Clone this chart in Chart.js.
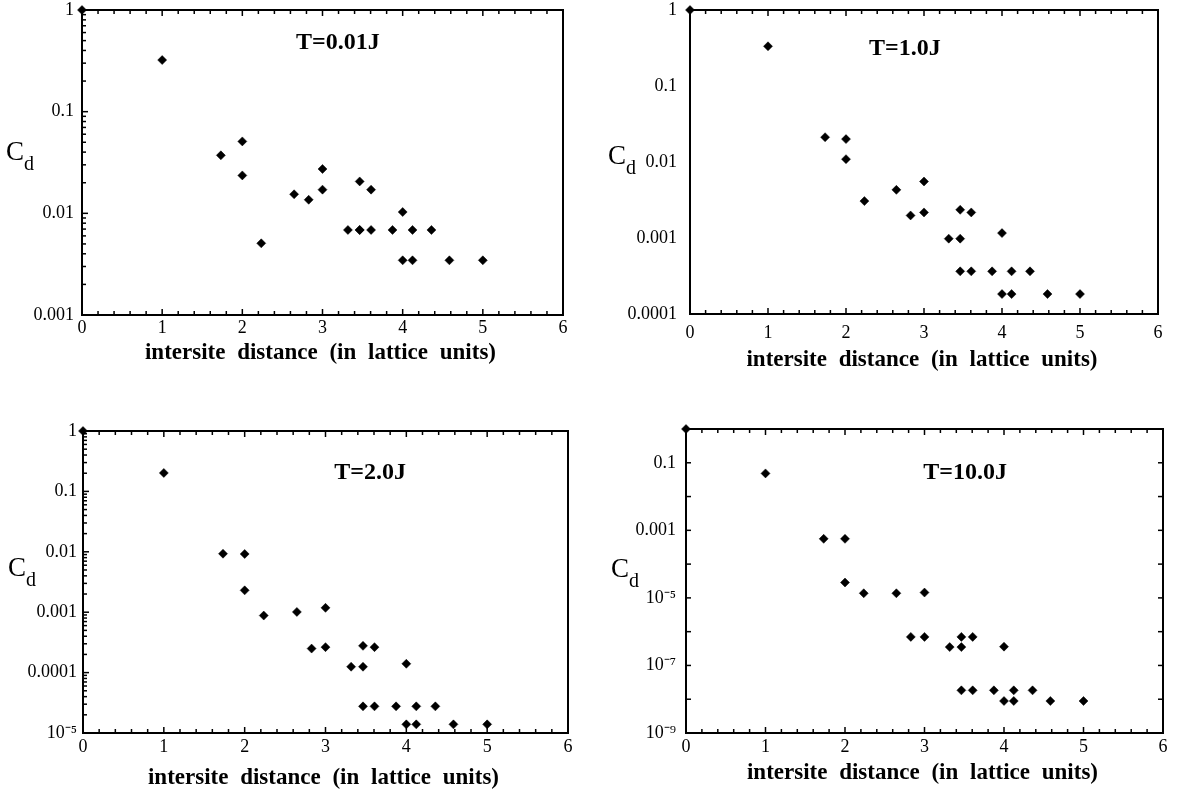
<!DOCTYPE html>
<html><head><meta charset="utf-8">
<script src="https://cdn.jsdelivr.net/npm/chart.js@4.4.1/dist/chart.umd.min.js"></script>
<style>
html,body{margin:0;padding:0;background:#fff;}
body{width:1177px;height:793px;position:relative;overflow:hidden;}
canvas{position:absolute;}
</style></head><body>
<canvas id="p1" width="585" height="395" style="left:0px;top:0px"></canvas>
<canvas id="p2" width="587" height="395" style="left:590px;top:0px"></canvas>
<canvas id="p3" width="585" height="395" style="left:0px;top:398px"></canvas>
<canvas id="p4" width="587" height="395" style="left:590px;top:398px"></canvas>
<script>
// ---- data ----
const distances = [0, 1, 1.732, 2, 2, 2.236, 2.646, 2.828, 3, 3, 3.317, 3.464, 3.464, 3.464, 3.606, 3.606, 3.873, 4, 4, 4.123, 4.123, 4.359, 4.583, 5];
const cdT001 = [1, 0.322, 0.0372, 0.051, 0.0236, 0.00507, 0.0154, 0.0136, 0.0273, 0.0171, 0.00686, 0.0206, 0.00686, 0.00686, 0.0171, 0.00686, 0.00686, 0.0103, 0.00345, 0.00686, 0.00345, 0.00686, 0.00345, 0.00345];
const cdT1 = [1, 0.333, 0.0212, 0.020, 0.0109, 0.00306, 0.0043, 0.00198, 0.00554, 0.00217, 0.00098, 0.00235, 0.00098, 0.000364, 0.00217, 0.000364, 0.000364, 0.00116, 0.000183, 0.000364, 0.000183, 0.000364, 0.000183, 0.000183];
const cdT2 = [1, 0.202, 0.0093, 0.0092, 0.0023, 0.00088, 0.00101, 0.00025, 0.00118, 0.000264, 0.000125, 0.000277, 0.000125, 2.76e-5, 0.000264, 2.76e-5, 2.76e-5, 0.00014, 1.39e-5, 2.76e-5, 1.39e-5, 2.76e-5, 1.39e-5, 1.39e-5];
const cdT10 = [1, 0.0485, 5.6e-4, 5.6e-4, 2.85e-5, 1.37e-5, 1.37e-5, 7.0e-7, 1.44e-5, 7.0e-7, 3.5e-7, 7.0e-7, 3.5e-7, 1.83e-8, 7.0e-7, 1.83e-8, 1.83e-8, 3.6e-7, 8.85e-9, 1.83e-8, 8.85e-9, 1.83e-8, 8.85e-9, 8.85e-9];

const xTickValues = [0, 1, 2, 3, 4, 5, 6];
const xTickLabels = ['0', '1', '2', '3', '4', '5', '6'];
const yTicksT001 = [1, 0.1, 0.01, 0.001];
const yLabelsT001 = ['1', '0.1', '0.01', '0.001'];
const yTicksT1 = [1, 0.1, 0.01, 0.001, 0.0001];
const yLabelsT1 = ['1', '0.1', '0.01', '0.001', '0.0001'];
const yTicksT2 = [1, 0.1, 0.01, 0.001, 0.0001, 1e-5];
const yLabelsT2 = ['1', '0.1', '0.01', '0.001', '0.0001', '10\u207B\u2075'];
const yTicksT10 = [0.1, 0.001, 1e-5, 1e-7, 1e-9];
const yLabelsT10 = ['0.1', '0.001', '10\u207B\u2075', '10\u207B\u2077', '10\u207B\u2079'];
const panelTitles = ['T=0.01J', 'T=1.0J', 'T=2.0J', 'T=10.0J'];
const xAxisTitle = 'intersite distance (in lattice units)';
const yAxisMain = 'C';
const yAxisSub = 'd';

// ---- drawing helpers ----
const SERIF = "'Liberation Serif', 'Times New Roman', serif";

const deco = {
  id: 'deco',
  beforeDatasetsDraw(chart, args, o) {
    const ctx = chart.ctx, a = chart.chartArea, xs = chart.scales.x, ys = chart.scales.y;
    ctx.save();
    ctx.strokeStyle = '#000';
    ctx.lineWidth = 1.5;
    const seg = (x1, y1, x2, y2) => { ctx.beginPath(); ctx.moveTo(x1, y1); ctx.lineTo(x2, y2); ctx.stroke(); };
    for (let i = 0; i <= 30; i++) {
      const px = xs.getPixelForValue(i / 5);
      const len = (i % 5 === 0) ? 6 : 4;
      seg(px, a.bottom, px, a.bottom - len);
      seg(px, a.top, px, a.top + len);
    }
    const e0 = Math.round(Math.log10(ys.min)), e1 = Math.round(Math.log10(ys.max));
    for (let e = e0; e <= e1; e++) {
      if (o.yMinor) {
        for (let m = 1; m <= 9; m++) {
          const v = m * Math.pow(10, e);
          if (v > ys.max * 1.0001) break;
          const py = ys.getPixelForValue(v);
          seg(a.left, py, a.left + (m === 1 ? 6 : 4), py);
        }
      } else if (o.yDecade) {
        const py = ys.getPixelForValue(Math.pow(10, e));
        seg(a.left, py, a.left + 5, py);
        seg(a.right, py, a.right - 5, py);
      }
    }
    ctx.lineWidth = 2;
    ctx.strokeRect(a.left, a.top, a.right - a.left, a.bottom - a.top);
    ctx.restore();
  },
  afterDraw(chart, args, o) {
    const ctx = chart.ctx, a = chart.chartArea;
    const w = a.right - a.left, h = a.bottom - a.top;
    ctx.save();
    ctx.fillStyle = '#000';
    // panel title
    ctx.font = 'bold 24px ' + SERIF;
    ctx.textAlign = 'center';
    ctx.textBaseline = 'middle';
    ctx.fillText(o.title, a.left + o.titleFx * w, a.top + o.titleFy * h);
    // x axis title
    ctx.font = 'bold 23px ' + SERIF;
    try { ctx.wordSpacing = '6px'; } catch (e) {}
    ctx.fillText(xAxisTitle, a.left + w / 2 - 2, a.bottom + o.xTitleDy);
    try { ctx.wordSpacing = '0px'; } catch (e) {}
    // y axis label C_d
    ctx.textAlign = 'left';
    ctx.font = '27px ' + SERIF;
    const cx = a.left + o.cdDx, cy = a.top + o.cdDy;
    ctx.fillText(yAxisMain, cx, cy);
    const cw = ctx.measureText(yAxisMain).width;
    ctx.font = '20px ' + SERIF;
    ctx.fillText(yAxisSub, cx + cw, cy + 12);
    ctx.restore();
  }
};
Chart.register(deco);

function makePanel(id, values, yMin, yMax, yTicks, yLabels, lay) {
  const pts = distances.map((d, i) => ({ x: d, y: values[i] }));
  return new Chart(document.getElementById(id), {
    type: 'scatter',
    data: { datasets: [{
      data: pts,
      pointStyle: 'rectRot',
      pointRadius: 4.5,
      pointBorderWidth: 0.5,
      backgroundColor: '#000',
      borderColor: '#000',
      clip: false
    }] },
    options: {
      responsive: false,
      animation: false,
      events: [],
      layout: { padding: { left: 0, top: lay.padTop, right: lay.padRight, bottom: 0 } },
      plugins: {
        legend: { display: false },
        tooltip: { enabled: false },
        deco: lay.deco
      },
      scales: {
        x: {
          type: 'linear', min: 0, max: 6,
          grid: { display: false, drawTicks: false },
          border: { display: false },
          afterBuildTicks: (s) => { s.ticks = xTickValues.map(v => ({ value: v })); },
          afterFit: (s) => { s.height = lay.xHeight; s.paddingLeft = 0; s.paddingRight = 0; },
          ticks: {
            padding: lay.xPad, color: '#000',
            font: { family: SERIF, size: 18 },
            maxRotation: 0, autoSkip: false,
            callback: (v, i) => xTickLabels[i]
          }
        },
        y: {
          type: 'logarithmic', min: yMin, max: yMax,
          grid: { display: false, drawTicks: false },
          border: { display: false },
          afterBuildTicks: (s) => { s.ticks = yTicks.map(v => ({ value: v })); },
          afterFit: (s) => { s.width = lay.yWidth; s.paddingTop = 0; s.paddingBottom = 0; },
          ticks: {
            padding: lay.yPad, color: '#000',
            font: { family: SERIF, size: 18 },
            autoSkip: false,
            callback: (v, i) => yLabels[i]
          }
        }
      }
    }
  });
}

makePanel('p1', cdT001, 0.001, 1, yTicksT001, yLabelsT001, {
  padTop: 10, padRight: 22, xHeight: 80, yWidth: 82, xPad: 2, yPad: 8,
  deco: { title: panelTitles[0], titleFx: 0.532, titleFy: 0.108, xTitleDy: 38, cdDx: -76, cdDy: 143, yMinor: true }
});
makePanel('p2', cdT1, 0.0001, 1, yTicksT1, yLabelsT1, {
  padTop: 10, padRight: 19, xHeight: 81, yWidth: 100, xPad: 8, yPad: 13,
  deco: { title: panelTitles[1], titleFx: 0.459, titleFy: 0.128, xTitleDy: 46, cdDx: -82, cdDy: 147 }
});
makePanel('p3', cdT2, 1e-5, 1, yTicksT2, yLabelsT2, {
  padTop: 33, padRight: 17, xHeight: 60, yWidth: 83, xPad: 3, yPad: 6,
  deco: { title: panelTitles[2], titleFx: 0.592, titleFy: 0.139, xTitleDy: 45, cdDx: -75, cdDy: 138, yMinor: true }
});
makePanel('p4', cdT10, 1e-9, 1, yTicksT10, yLabelsT10, {
  padTop: 31, padRight: 14, xHeight: 60, yWidth: 96, xPad: 3, yPad: 10,
  deco: { title: panelTitles[3], titleFx: 0.585, titleFy: 0.145, xTitleDy: 40, cdDx: -75, cdDy: 141, yDecade: true }
});
</script>
</body></html>
